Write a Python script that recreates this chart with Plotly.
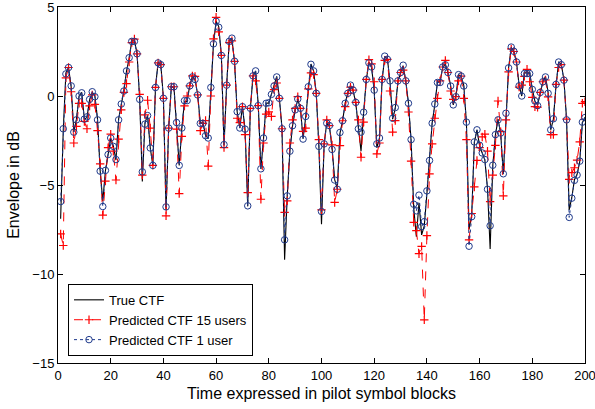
import plotly.graph_objects as go

x_vals = list(range(1, 201))

true_ctf = [
    -6.9, -1.9, 1.3, 1.6, 0.5, -2.0, -1.3, 0.0, 0.2, -1.3,
    -1.2, -0.2, 0.2, 0.0, -1.3, -4.2, -5.9, -4.2, -3.3, -2.4,
    -2.8, -3.6, -1.3, -0.5, 0.3, 1.4, 2.1, 3.1, 3.1, 2.4,
    -0.2, -4.8, -1.5, -1.1, -2.9, -3.9, 0.5, 1.9, 1.8, -0.1,
    -6.4, -1.8, 0.5, 0.5, -1.5, -3.9, -1.8, -0.3, -0.3, 0.6,
    1.1, 0.9, 0.1, -1.5, -1.5, -2.2, -2.4, 0.5, 2.9, 4.2,
    3.9, 2.3, -2.8, 0.6, 3.1, 3.2, 1.9, -0.9, -1.8, -0.6,
    -1.9, -6.2, -0.7, 1.1, 1.4, -0.5, -4.1, -2.4, -0.4, -0.4,
    0.1, 0.6, 1.1, -0.1, -1.8, -9.2, -5.6, -3.1, -1.7, -0.8,
    -0.2, -0.7, -2.4, -1.2, 0.5, 1.8, 1.4, 0.2, -2.8, -7.2,
    -2.7, -1.5, -1.7, -2.9, -4.7, -5.2, -2.1, -1.4, -0.4, 0.2,
    0.6, 0.3, -0.4, -1.8, -3.1, -0.9, 0.9, 1.9, 1.6, 0.3,
    -2.9, -2.4, 0.9, 2.2, 2.1, 0.8, -1.3, -0.7, 0.8, 1.3,
    1.7, 0.8, -0.4, -2.5, -6.3, -7.9, -6.0, -7.8, -7.3, -5.5,
    -3.6, -1.5, -0.5, 0.8, 0.8, 1.6, 1.8, 1.3, 0.6, -0.5,
    0.0, 1.2, 1.1, 0.6, -1.5, -7.5, -6.7, -2.6, -1.9, -2.8,
    -3.2, -3.6, -5.2, -8.6, -3.9, -2.2, -1.3, -2.1, -4.4, -1.0,
    1.6, 2.7, 2.5, 1.9, 0.6, 0.0, 1.3, 1.3, 1.3, 0.4,
    -0.3, -0.5, 0.2, 0.8, 1.1, 0.2, -1.9, -1.3, 0.6, 1.9,
    1.8, 0.9, -1.3, -6.4, -5.7, -4.7, -4.4, -3.7, -1.5, -1.2,
]

pred_15 = [
    -7.75, -8.4, 1.02, 1.6, 0.24, -2.64, -1.71, -0.41, -0.41, -1.43,
    -1.84, -0.56, 0.06, -0.47, -1.95, -3.81, -6.69, -4.78, -2.9, -2.14,
    -3.1, -4.72, -2.42, -0.78, 0.2, 0.7, 1.91, 3.0, 3.2, 2.37,
    0.09, -4.44, -1.06, -0.24, -1.8, -3.9, 0.48, 1.86, 1.76, -0.13,
    -6.73, -1.8, 0.52, 0.52, -1.86, -5.48, -2.27, -0.56, 0.0, 0.57,
    1.13, 1.1, 0.06, -1.95, -1.54, -1.38, -3.94, 0.0, 3.21, 4.42,
    3.6, 2.28, -2.9, 0.61, 3.0, 3.1, 1.95, -1.25, -1.5, -0.6,
    -2.17, -5.43, -0.69, 1.13, 0.85, -0.54, -5.8, -2.64, -1.02, -0.89,
    -1.15, 0.36, 0.73, -0.13, -1.84, -6.54, -5.89, -2.64, -1.34, -0.7,
    -0.04, -0.69, -1.99, -1.8, 0.4, 1.3, 1.2, 0.15, -2.45, -6.4,
    -2.69, -1.34, -1.66, -2.75, -5.98, -5.24, -2.79, -1.39, -0.6, 0.15,
    0.5, 0.33, -0.36, -1.34, -3.44, -1.47, 0.93, 2.04, 1.8, 0.8,
    -3.25, -2.64, 0.93, 2.0, 2.06, 0.28, -2.03, -1.38, 0.85, 1.32,
    1.45, 0.85, -0.9, -3.66, -7.1, -7.56, -8.86, -8.45, -12.58, -7.84,
    -4.37, -2.69, -1.25, -0.13, 0.85, 1.63, 2.0, 1.32, 0.28, -0.19,
    -0.04, 0.85, 1.12, -0.13, -2.45, -8.08, -6.6, -5.11, -3.62, -2.9,
    -2.3, -2.14, -3.1, -5.93, -4.44, -2.77, -0.28, -2.0, -5.61, -1.34,
    1.35, 2.65, 2.5, 1.91, 0.5, 0.61, 1.1, 1.5, 0.8, -0.08,
    -0.6, -0.63, 0.2, 0.8, 0.9, -0.05, -2.17, -2.17, 0.65, 1.6,
    1.76, 0.89, -1.3, -4.68, -4.31, -4.03, -3.6, -2.58, -0.41, -0.32,
]

pred_1 = [
    -5.93, -1.84, 1.24, 1.6, 0.57, -2.03, -1.34, 0.0, 0.18, -1.3,
    -1.17, -0.19, 0.24, -0.04, -1.34, -4.22, -6.21, -4.18, -3.29, -2.36,
    -2.83, -3.57, -1.34, -0.45, 0.28, 1.41, 2.15, 3.07, 3.07, 2.37,
    -0.19, -4.26, -1.58, -1.1, -2.92, -3.9, 0.48, 1.86, 1.76, -0.13,
    -6.23, -1.8, 0.52, 0.52, -1.49, -3.9, -1.8, -0.26, -0.26, 0.57,
    1.07, 0.93, 0.06, -1.54, -1.54, -2.23, -2.36, 0.48, 2.93, 4.2,
    3.86, 2.28, -2.73, 0.61, 3.07, 3.25, 1.95, -0.88, -1.8, -0.6,
    -1.86, -6.17, -0.69, 1.13, 1.41, -0.54, -4.09, -2.36, -0.41, -0.38,
    0.09, 0.56, 1.07, -0.13, -1.84, -8.08, -5.61, -3.1, -1.67, -0.78,
    -0.17, -0.69, -2.42, -1.15, 0.52, 1.78, 1.41, 0.15, -2.83, -6.49,
    -2.69, -1.53, -1.66, -3.0, -4.72, -5.24, -2.05, -1.39, -0.41, 0.15,
    0.61, 0.33, -0.36, -1.84, -2.03, -0.91, 0.93, 1.86, 1.63, 0.33,
    -2.69, -2.36, 0.93, 2.24, 2.06, 0.85, -1.25, -0.65, 0.85, 1.32,
    1.73, 0.85, -0.41, -2.45, -6.08, -6.45, -5.57, -7.34, -7.06, -5.33,
    -3.62, -1.53, -0.45, 0.76, 0.76, 1.63, 1.75, 1.32, 0.56, -0.5,
    -0.04, 1.2, 1.12, 0.56, -1.47, -8.44, -6.78, -2.58, -1.9, -2.77,
    -3.2, -3.57, -5.24, -7.29, -3.89, -2.17, -1.34, -2.08, -4.37, -0.97,
    1.58, 2.75, 2.51, 1.91, 0.57, 0.0, 1.26, 1.26, 1.26, 0.37,
    -0.28, -0.54, 0.2, 0.8, 1.07, 0.15, -1.9, -1.28, 0.65, 1.91,
    1.76, 0.89, -1.34, -6.82, -5.74, -4.74, -4.44, -3.66, -1.47, -1.21,
]

x_ticks = [0, 20, 40, 60, 80, 100, 120, 140, 160, 180, 200]
y_ticks = [-15, -10, -5, 0, 5]
y_tick_text = ["\u221215", "\u221210", "\u22125", "0", "5"]

FONT = "Liberation Sans, Arial, Helvetica, sans-serif"
BLUE = "#1f3a8c"

fig = go.Figure()
fig.add_trace(go.Scatter(
    x=x_vals, y=true_ctf, mode="lines", name="True CTF",
    line=dict(color="black", width=1.1),
))
fig.add_trace(go.Scatter(
    x=x_vals, y=pred_15, mode="lines+markers", name="Predicted CTF 15 users",
    line=dict(color="red", width=1, dash="dash"),
    marker=dict(symbol="cross-thin-open", size=6, color="red",
                line=dict(color="red", width=1.2)),
))
fig.add_trace(go.Scatter(
    x=x_vals, y=pred_1, mode="lines+markers", name="Predicted CTF 1 user",
    line=dict(color=BLUE, width=1, dash="dot"),
    marker=dict(symbol="circle-open", size=6.5, color=BLUE,
                line=dict(color=BLUE, width=1)),
))

axis_common = dict(
    showgrid=False, zeroline=False, showline=True, linecolor="black",
    linewidth=1, mirror="ticks", ticks="inside", ticklen=5,
    tickcolor="black", tickfont=dict(family=FONT, size=13, color="black"),
    automargin=False, ticklabeloverflow="allow",
)

fig.update_layout(
    width=595, height=409,
    margin=dict(l=58, r=10, t=7, b=46),
    paper_bgcolor="white", plot_bgcolor="white",
    font=dict(family=FONT, size=13, color="black"),
    xaxis=dict(range=[0, 200], tickvals=x_ticks,
               title=dict(text="Time expressed in pilot symbol blocks",
                          font=dict(family=FONT, size=16), standoff=6),
               **axis_common),
    yaxis=dict(range=[-15, 5], tickvals=y_ticks, ticktext=y_tick_text,
               title=dict(text="Envelope in dB",
                          font=dict(family=FONT, size=16), standoff=8),
               **axis_common),
    showlegend=True,
    legend=dict(x=0.019, y=0.02, xanchor="left", yanchor="bottom",
                bgcolor="white", bordercolor="black", borderwidth=1,
                font=dict(family=FONT, size=13, color="black"),
                tracegroupgap=0, itemwidth=30),
)

fig.write_html(
    "out.html",
    config={"displayModeBar": False},
    post_script="document.body.style.margin='0';document.body.style.overflow='hidden';",
)
